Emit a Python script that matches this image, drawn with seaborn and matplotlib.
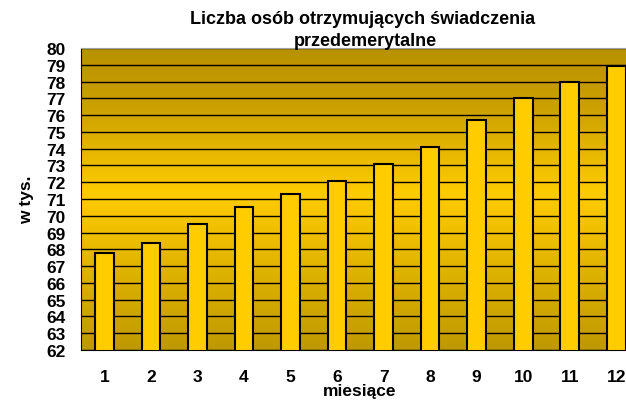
import numpy as np
import pandas as pd
import matplotlib
matplotlib.use("Agg")
import matplotlib.pyplot as plt
from matplotlib.colors import LinearSegmentedColormap
import seaborn as sns

months = ['1', '2', '3', '4', '5', '6', '7', '8', '9', '10', '11', '12']
values = [67.8, 68.4, 69.5, 70.5, 71.3, 72.1, 73.1, 74.1, 75.7, 77.0, 78.0, 78.9]
y_ticks = list(range(62, 81))

title_1 = "Liczba osób otrzymujących świadczenia"
title_2 = "przedemerytalne"
x_label = "miesiące"
y_label = "w tys."

df = pd.DataFrame({'miesiac': months, 'wartosc': values})

sns.set_style("white")
plt.rcParams['font.family'] = ['Liberation Sans', 'DejaVu Sans']
plt.rcParams['font.weight'] = 'bold'
plt.rcParams['text.color'] = 'black'
plt.rcParams['xtick.color'] = 'black'
plt.rcParams['ytick.color'] = 'black'

fig = plt.figure(figsize=(6.26, 4.02), dpi=100)
ax = fig.add_axes([0.1294, 0.1269, 0.8923, 0.7512])

# background gradient: dark at top and bottom, bright around 71-72
bg = LinearSegmentedColormap.from_list(
    'bg', [(0.0, (0.75, 0.60, 0.0)), (0.52, (1.0, 0.80, 0.0)),
           (0.80, (0.80, 0.63, 0.0)), (1.0, (0.72, 0.57, 0.0))])
grad = np.linspace(0, 1, 256).reshape(-1, 1)
ax.imshow(grad, cmap=bg, aspect='auto', extent=[-0.5, 11.5, 62, 80],
          origin='lower', zorder=0)

sns.barplot(data=df, x='miesiac', y='wartosc', order=months, color='#FFCC00',
            saturation=1, width=0.4, edgecolor='black', linewidth=1.5, ax=ax,
            zorder=3)

ax.set_xlim(-0.5, 11.5)
ax.set_ylim(62, 80)
ax.set_yticks(y_ticks)
ax.yaxis.grid(True, color='black', linewidth=1.0, zorder=1)
ax.set_axisbelow(True)

ax.set_xticks(np.arange(-0.5, 12, 1), minor=True)
ax.tick_params(axis='x', which='major', length=0, pad=14, labelsize=12.5,
               labelcolor='black')
ax.tick_params(axis='x', which='minor', length=5, width=1, color='black',
               direction='out')
ax.tick_params(axis='y', length=5, width=1, color='black', direction='out',
               pad=6, labelsize=12.5, labelcolor='black')
for lab in ax.get_xticklabels() + ax.get_yticklabels():
    lab.set_fontweight('bold')

ax.spines['left'].set_color('black')
ax.spines['bottom'].set_color('black')
ax.spines['top'].set_color('#A0A0A0')
ax.spines['right'].set_visible(False)

ax.set_xlabel('')
ax.set_ylabel('')
fig.text(360 / 626, 1 - 392 / 402, x_label, ha='center', va='center',
         fontsize=12.5, fontweight='bold', color='black')
fig.text(27 / 626, 1 - 200 / 402, y_label, ha='center', va='center',
         rotation=90, fontsize=12.5, fontweight='bold', color='black')

fig.text(363 / 626, 1 - 20 / 402, title_1, ha='center', va='center',
         fontsize=13, fontweight='bold', color='black')
fig.text(365 / 626, 1 - 42 / 402, title_2, ha='center', va='center',
         fontsize=13, fontweight='bold', color='black')

plt.savefig("out.png", dpi=100)
